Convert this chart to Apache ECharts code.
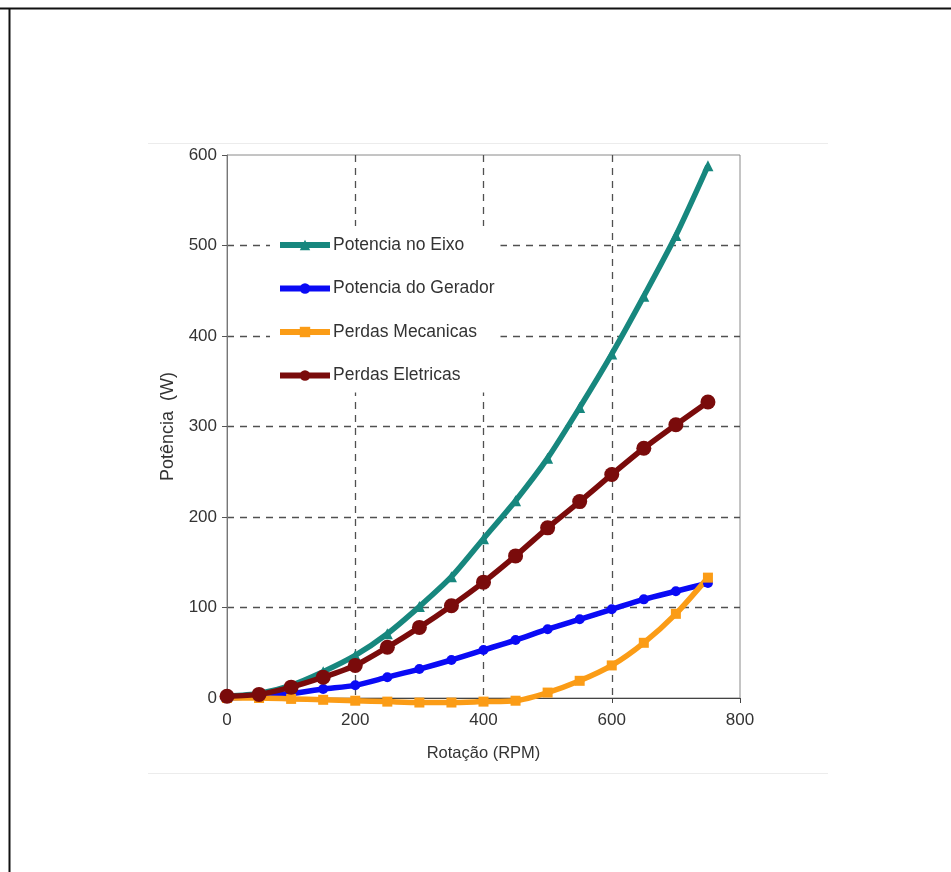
<!DOCTYPE html>
<html>
<head>
<meta charset="utf-8">
<script src="https://cdn.jsdelivr.net/npm/echarts@6/dist/echarts.min.js"></script>
<style>
html,body{margin:0;padding:0;background:#fff;}
#chart{width:951px;height:872px;}
</style>
</head>
<body>
<div id="chart"></div>
<script>
var rpm = [0, 50, 100, 150, 200, 250, 300, 350, 400, 450, 500, 550, 600, 650, 700, 750];
var potenciaEixo = [2, 5, 14, 29, 47, 71, 101, 134, 176, 218, 265, 321, 380, 444, 511, 588];
var potenciaGerador = [0, 2, 5, 10, 14, 23, 32, 42, 53, 64, 76, 87, 98, 109, 118, 127];
var perdasMecanicas = [0, 0, -1, -2, -3, -4, -5, -5, -4, -3, 6, 19, 36, 61, 93, 133];
var perdasEletricas = [2, 4, 12, 23, 36, 56, 78, 102, 128, 157, 188, 217, 247, 276, 302, 327];
var seriesNames = ['Potencia no Eixo', 'Potencia do Gerador', 'Perdas Mecanicas', 'Perdas Eletricas'];
var xTicks = [0, 200, 400, 600, 800];
var yTicks = [0, 100, 200, 300, 400, 500, 600];

function pairs(arr) { return rpm.map(function (x, i) { return [x, arr[i]]; }); }

var FONT = '"Liberation Sans", Arial, sans-serif';
var chart = echarts.init(document.getElementById('chart'), null, {renderer: 'canvas'});
var dash = {color: '#505050', width: 1.3, type: [7, 6]};
var option = {
  backgroundColor: '#ffffff',
  animation: false,
  textStyle: {fontFamily: FONT},
  graphic: [
    {type: 'line', shape: {x1: 0, y1: 8.5, x2: 951, y2: 8.5}, style: {stroke: '#111', lineWidth: 2}},
    {type: 'line', shape: {x1: 9.5, y1: 8, x2: 9.5, y2: 872}, style: {stroke: '#111', lineWidth: 2}},
    {type: 'line', shape: {x1: 148, y1: 143.5, x2: 828, y2: 143.5}, style: {stroke: '#ececec', lineWidth: 1}},
    {type: 'line', shape: {x1: 148, y1: 773.5, x2: 828, y2: 773.5}, style: {stroke: '#ececec', lineWidth: 1}}
  ],
  grid: {left: 227, right: 211, top: 155, bottom: 174, show: true, borderColor: '#8a8a8a', borderWidth: 1, backgroundColor: 'transparent'},
  legend: {
    orient: 'vertical', left: 270, top: 226,
    data: seriesNames,
    backgroundColor: '#ffffff',
    padding: [9, 6, 7, 7],
    itemWidth: 50, itemHeight: 13, itemGap: 23.5,
    lineStyle: {width: 6},
    textStyle: {fontSize: 17.5, color: '#333', fontFamily: FONT, padding: [0, 0, 0, -2], lineHeight: 20}
  },
  xAxis: {
    type: 'value', min: 0, max: 800, interval: 200,
    name: 'Rotação (RPM)', nameLocation: 'middle', nameGap: 47,
    nameTextStyle: {fontSize: 16.5, color: '#333', fontFamily: FONT},
    axisLine: {show: true, lineStyle: {color: '#444', width: 1}},
    axisTick: {show: true, inside: false, length: 5, lineStyle: {color: '#444'}},
    axisLabel: {fontSize: 17, color: '#333', margin: 14, fontFamily: FONT, formatter: function (v) { return xTicks.indexOf(v) >= 0 ? String(v) : ''; }},
    splitLine: {show: true, showMinLine: false, showMaxLine: false, lineStyle: dash}
  },
  yAxis: {
    type: 'value', min: 0, max: 600, interval: 100,
    name: 'Potência  (W)', nameLocation: 'middle', nameGap: 50, nameRotate: 90,
    nameTextStyle: {fontSize: 18, color: '#333', fontFamily: FONT},
    axisLine: {show: true, lineStyle: {color: '#777', width: 1}},
    axisTick: {show: true, inside: false, length: 5, lineStyle: {color: '#555'}},
    axisLabel: {fontSize: 17, color: '#333', margin: 10, fontFamily: FONT, formatter: function (v) { return yTicks.indexOf(v) >= 0 ? String(v) : ''; }},
    splitLine: {show: true, showMinLine: false, showMaxLine: false, lineStyle: dash}
  },
  series: [
    {name: seriesNames[0], type: 'line', data: pairs(potenciaEixo), smooth: 0.25, clip: false,
     symbol: 'triangle', symbolSize: 11, color: '#17877e',
     lineStyle: {width: 5.5, color: '#17877e'}, itemStyle: {color: '#17877e'}},
    {name: seriesNames[1], type: 'line', data: pairs(potenciaGerador), smooth: 0.25, clip: false,
     symbol: 'circle', symbolSize: 10, color: '#0a0af5',
     lineStyle: {width: 5.5, color: '#0a0af5'}, itemStyle: {color: '#0a0af5'}},
    {name: seriesNames[2], type: 'line', data: pairs(perdasMecanicas), smooth: 0.25, clip: false,
     symbol: 'rect', symbolSize: 10, color: '#fb9c16',
     lineStyle: {width: 5.5, color: '#fb9c16'}, itemStyle: {color: '#fb9c16'}},
    {name: seriesNames[3], type: 'line', data: pairs(perdasEletricas), smooth: 0.25, clip: false,
     symbol: 'circle', symbolSize: 15, color: '#7a0b0b',
     lineStyle: {width: 5.5, color: '#7a0b0b'}, itemStyle: {color: '#7a0b0b'}}
  ]
};
chart.setOption(option);
</script>
</body>
</html>
